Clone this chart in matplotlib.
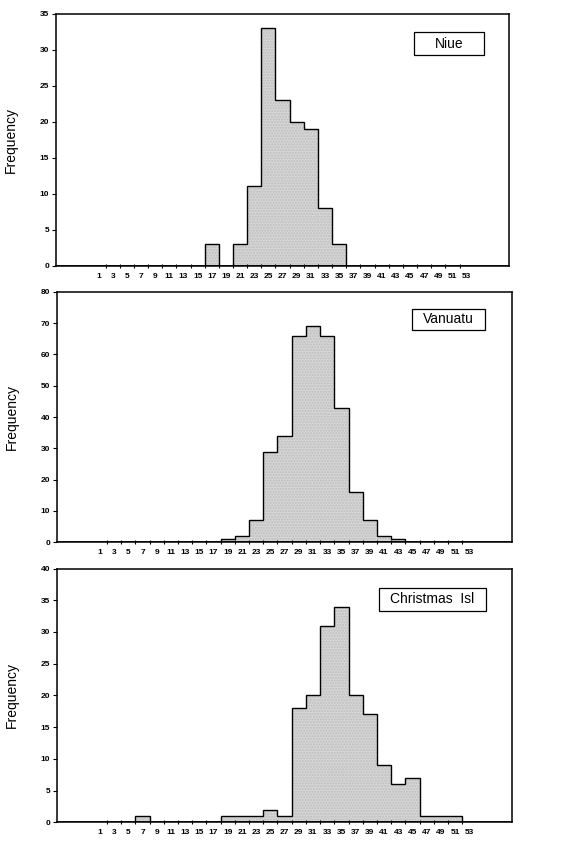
import numpy as np
import matplotlib
matplotlib.use("Agg")
import matplotlib.pyplot as plt
from matplotlib.patches import Rectangle

# bin centres (odd values 1..53), bins 2 units wide
centres = np.arange(1, 54, 2)
edges = np.arange(0, 55, 2)

niue = [0, 0, 0, 0, 0, 0, 0, 0, 3, 0, 3, 11, 33, 23, 20, 19, 8, 3,
        0, 0, 0, 0, 0, 0, 0, 0, 0]
vanuatu = [0, 0, 0, 0, 0, 0, 0, 0, 0, 1, 2, 7, 29, 34, 66, 69, 66, 43,
           16, 7, 2, 1, 0, 0, 0, 0, 0]
christmas = [0, 0, 0, 1, 0, 0, 0, 0, 0, 1, 1, 1, 2, 1, 18, 20, 31, 34,
             20, 17, 9, 6, 7, 1, 1, 1, 0]

names = ["Niue", "Vanuatu", "Christmas  Isl"]
series = [niue, vanuatu, christmas]
ymax = [35, 80, 40]
ystep = [5, 10, 5]

# axes rects [left, bottom, width, height] in figure fraction
rects = [[0.098, 0.686, 0.792, 0.298],
         [0.100, 0.359, 0.795, 0.296],
         [0.100, 0.028, 0.795, 0.300]]
# label boxes in axes fraction (x0, y0, x1, y1)
boxes = [(0.790, 0.837, 0.945, 0.925),
         (0.780, 0.848, 0.941, 0.932),
         (0.708, 0.831, 0.943, 0.925)]

fig = plt.figure(figsize=(5.72, 8.46), dpi=100)
tickfont = dict(family="Liberation Sans", size=6, weight="bold")

for k in range(3):
    ax = fig.add_axes(rects[k])
    vals = np.array(series[k])
    ax.stairs(vals, edges, fill=True, color="#d6d6d6", hatch="......",
              edgecolor="#bdbdbd", linewidth=0)
    ax.stairs(vals, edges, baseline=0, color="black", linewidth=1.0)
    ax.axhline(0, color="black", lw=1.2)

    ax.set_xlim(-5, 59)
    ax.set_ylim(0, ymax[k])
    for s in ax.spines.values():
        s.set_linewidth(1.1)

    ax.set_yticks(np.arange(0, ymax[k] + 1, ystep[k]))
    ax.set_yticklabels([str(v) for v in np.arange(0, ymax[k] + 1, ystep[k])],
                       fontdict=tickfont)
    ax.tick_params(axis="y", direction="out", length=3, width=0.8, pad=2)

    ax.set_xticks(np.arange(2, 53, 2))
    ax.set_xticklabels([])
    ax.set_xticks(centres, minor=True)
    ax.set_xticklabels([str(c) for c in centres], minor=True, fontdict=tickfont)
    ax.tick_params(axis="x", which="major", direction="inout", length=3, width=0.8)
    ax.tick_params(axis="x", which="minor", length=0, pad=5)

    ax.set_ylabel("Frequency", family="Liberation Sans", fontsize=10)
    ax.yaxis.set_label_coords(-0.085, 0.5)

    x0, y0, x1, y1 = boxes[k]
    ax.add_patch(Rectangle((x0, y0), x1 - x0, y1 - y0, transform=ax.transAxes,
                           facecolor="white", edgecolor="black", lw=0.9, zorder=5))
    ax.text((x0 + x1) / 2, (y0 + y1) / 2, names[k], transform=ax.transAxes,
            ha="center", va="center", fontsize=10, family="Liberation Sans",
            zorder=6)

fig.savefig("out.png", dpi=100)
